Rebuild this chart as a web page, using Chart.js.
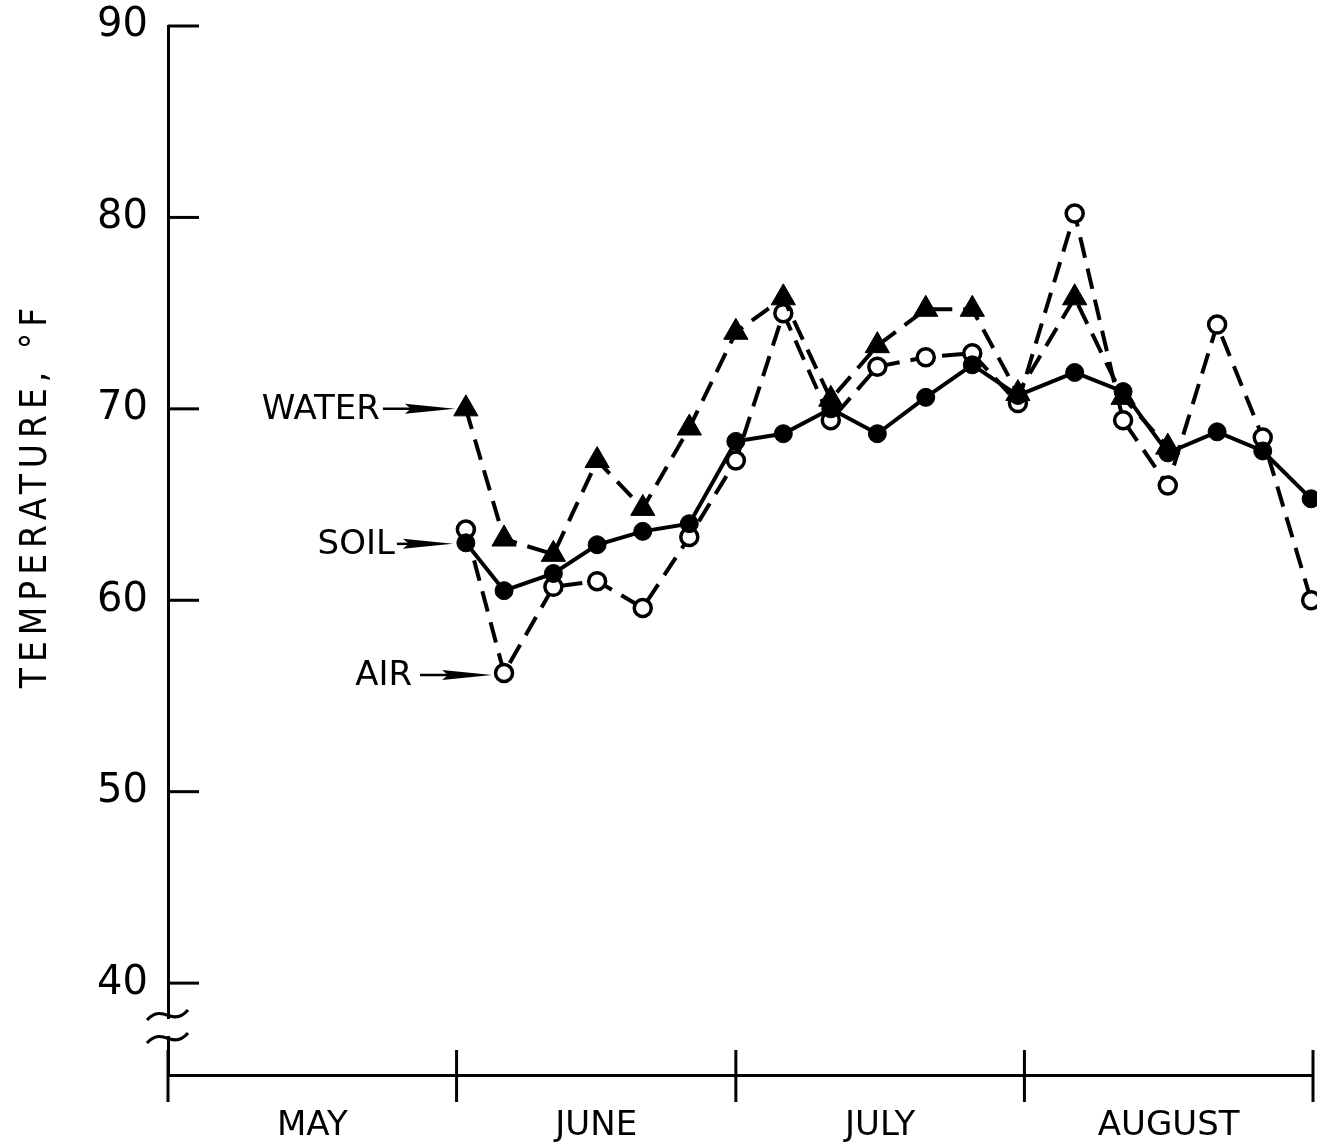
<!DOCTYPE html>
<html>
<head>
<meta charset="utf-8">
<script src="https://cdn.jsdelivr.net/npm/chart.js@4.4.1/dist/chart.umd.min.js"></script>
<style>
  html, body { margin: 0; padding: 0; background: #fff; }
  canvas { display: block; }
</style>
</head>
<body>
<canvas id="c" width="1317" height="1147"></canvas>
<script>
// days counted from May 1
const days = [32.0, 36.1, 41.4, 46.1, 51.0, 56.0, 61.0, 66.1, 71.2, 76.2, 81.4, 86.4, 91.3, 97.4, 102.6, 107.4, 112.7, 117.6, 122.8];
const water = [70.0, 63.2, 62.4, 67.3, 64.8, 69.0, 74.0, 75.8, 70.5, 73.3, 75.2, 75.2, 70.8, 75.8, 70.6, 68.0];
const soil = [63.0, 60.5, 61.4, 62.9, 63.6, 64.0, 68.3, 68.7, 70.0, 68.7, 70.6, 72.3, 70.7, 71.9, 70.9, 67.7, 68.8, 67.8, 65.3];
const air = [63.7, 56.2, 60.7, 61.0, 59.6, 63.3, 67.3, 75.0, 69.4, 72.2, 72.7, 72.9, 70.3, 80.2, 69.4, 66.0, 74.4, 68.5, 60.0];

const monthEdges = [0, 31, 61, 92, 123];
const monthMids = [15.5, 46, 76.5, 107.5];
const monthLabels = ['MAY', 'JUNE', 'JULY', 'AUGUST'];
const yTicks = [40, 50, 60, 70, 80, 90];

const pts = arr => arr.map((v, i) => ({x: days[i], y: v}));
const FONT = '"DejaVu Sans", sans-serif';

// tick marks, axis break, labels with arrows, axis title
const deco = {
  id: 'deco',
  afterDraw(chart) {
    const {ctx, chartArea: a, scales: {x, y}} = chart;
    const line = (x0, y0, x1, y1) => { ctx.beginPath(); ctx.moveTo(x0, y0); ctx.lineTo(x1, y1); ctx.stroke(); };
    ctx.save();
    ctx.strokeStyle = '#000';
    ctx.fillStyle = '#000';
    ctx.lineWidth = 3;
    yTicks.forEach(v => { const py = y.getPixelForValue(v); line(a.left, py, a.left + 31, py); });
    monthEdges.forEach(v => { const px = x.getPixelForValue(v); line(px, a.bottom - 25, px, a.bottom + 27); });

    // axis break
    const b = a.bottom, l = a.left;
    ctx.fillStyle = '#fff';
    ctx.fillRect(l - 4, b - 56, 8, 17);
    ctx.lineWidth = 3;
    [b - 59, b - 36].forEach(yy => {
      ctx.beginPath();
      ctx.moveTo(l - 21, yy + 4);
      ctx.bezierCurveTo(l - 12, yy - 6, l - 4, yy - 2, l + 2, yy);
      ctx.bezierCurveTo(l + 8, yy + 2, l + 14, yy + 1, l + 20, yy - 6);
      ctx.stroke();
    });

    // series labels with arrows
    ctx.fillStyle = '#000';
    ctx.font = '34px ' + FONT;
    ctx.textAlign = 'right';
    ctx.textBaseline = 'middle';
    const arrow = (label, tip, yy, len, gap) => {
      ctx.lineWidth = 2.5;
      line(tip - len, yy, tip - 40, yy);
      ctx.beginPath();
      ctx.moveTo(tip - 50, yy - 5);
      ctx.lineTo(tip, yy);
      ctx.lineTo(tip - 50, yy + 5);
      ctx.lineTo(tip - 44, yy);
      ctx.closePath();
      ctx.fill();
      ctx.fillText(label, tip - len - gap, yy + 1);
    };
    arrow('WATER', x.getPixelForValue(days[0]) - 11, y.getPixelForValue(water[0]), 72, 3);
    arrow('SOIL', x.getPixelForValue(days[0]) - 13, y.getPixelForValue(soil[0]) + 1, 56, 2);
    arrow('AIR', x.getPixelForValue(days[1]) - 12, y.getPixelForValue(air[1]) + 2, 72, 8);

    // y axis title
    ctx.translate(36, 495);
    ctx.rotate(-Math.PI / 2);
    ctx.scale(1, 1.12);
    ctx.textAlign = 'center';
    ctx.font = '33px ' + FONT;
    ctx.letterSpacing = '6px';
    ctx.fillText('TEMPERATURE, \u00B0F', 0, 0);
    ctx.restore();
  }
};

new Chart(document.getElementById('c'), {
  type: 'line',
  data: {
    datasets: [
      {
        label: 'SOIL', data: pts(soil),
        borderColor: '#000', borderWidth: 4,
        pointStyle: 'circle', pointRadius: 9, pointBackgroundColor: '#000', pointBorderColor: '#000', pointBorderWidth: 1,
        clip: false
      },
      {
        label: 'WATER', data: pts(water),
        borderColor: '#000', borderWidth: 4, borderDash: [21, 11],
        pointStyle: 'triangle', pointRadius: 14, pointBackgroundColor: '#000', pointBorderColor: '#000', pointBorderWidth: 1,
        clip: false
      },
      {
        label: 'AIR', data: pts(air),
        borderColor: '#000', borderWidth: 4, borderDash: [21, 11],
        pointStyle: 'circle', pointRadius: 8.5, pointBackgroundColor: '#fff', pointBorderColor: '#000', pointBorderWidth: 3.5,
        clip: false
      }
    ]
  },
  options: {
    responsive: false,
    animation: false,
    layout: {autoPadding: false, padding: {top: 26, right: 4, left: 0, bottom: 0}},
    plugins: {legend: {display: false}, tooltip: {enabled: false}},
    scales: {
      x: {
        type: 'linear', min: 0, max: 123,
        grid: {display: false},
        border: {display: true, color: '#000', width: 3},
        afterBuildTicks: s => { s.ticks = monthMids.map(v => ({value: v})); },
        afterFit: s => { s.height = 72; s.paddingLeft = 0; s.paddingRight = 0; },
        ticks: {
          autoSkip: false, maxRotation: 0, padding: 23, color: '#000',
          font: {family: FONT, size: 34},
          callback: v => monthLabels[monthMids.indexOf(v)] || ''
        }
      },
      y: {
        type: 'linear', min: 35.2, max: 90,
        grid: {display: false},
        border: {display: true, color: '#000', width: 3},
        afterBuildTicks: s => { s.ticks = yTicks.map(v => ({value: v})); },
        afterFit: s => { s.width = 168; s.paddingTop = 0; s.paddingBottom = 0; },
        ticks: {padding: 12, color: '#000', font: {family: FONT, size: 40}}
      }
    }
  },
  plugins: [deco]
});
</script>
</body>
</html>
